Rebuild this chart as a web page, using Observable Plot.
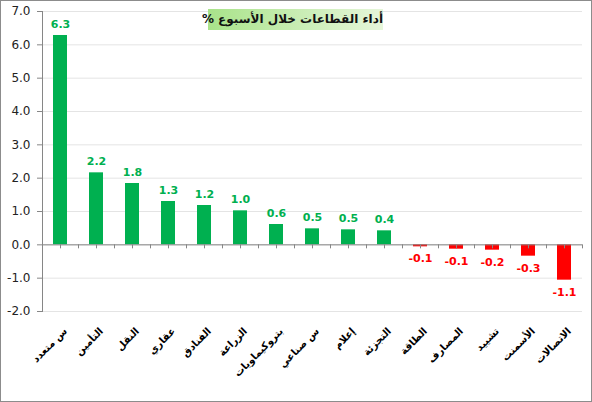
<!DOCTYPE html>
<html><head><meta charset="utf-8">
<script src="https://cdn.jsdelivr.net/npm/d3@7"></script>
<script src="https://cdn.jsdelivr.net/npm/@observablehq/plot@0.6"></script>
<style>
body{margin:0;background:#fff;}
#wrap{position:relative;width:592px;height:402px;overflow:hidden;background:#fff}
#chart{position:absolute;left:0;top:0}
#border{position:absolute;left:0;top:0;width:590px;height:400px;border:1px solid #8c8c8c;pointer-events:none}
#title{position:absolute;left:208px;top:9px;width:175px;height:21px;background:linear-gradient(to right,#a9e38a,#e6f6da);font:bold 12px "DejaVu Sans";line-height:21px;text-align:center;direction:rtl;color:#111;white-space:nowrap}
</style></head><body>
<div id="wrap"><div id="chart"></div><div id="title">أداء القطاعات خلال الأسبوع %</div><div id="border"></div></div>
<script>
const sectors = ["س متعدد","التأمين","النقل","عقاري","الفنادق","الزراعة","بتروكيماويات","س صناعي","إعلام","التجزئة","الطاقة","المصارف","تشييد","الأسمنت","الاتصالات"];
const changes = [6.28, 2.16, 1.84, 1.30, 1.18, 1.02, 0.61, 0.48, 0.45, 0.42, -0.06, -0.13, -0.16, -0.34, -1.06];
const yTicks = [-2, -1, 0, 1, 2, 3, 4, 5, 6, 7];

const data = sectors.map((s, i) => ({sector: s, change: changes[i]}));
const pos = data.filter(d => d.change >= 0);
const neg = data.filter(d => d.change < 0);
const axisGray = "#868686";

const chart = Plot.plot({
  width: 592, height: 402,
  marginLeft: 42, marginRight: 10, marginTop: 11, marginBottom: 91,
  style: {fontFamily: "DejaVu Sans", fontSize: "12px", color: "#222", background: "transparent"},
  x: {domain: sectors, paddingInner: 0.611, paddingOuter: 0.3055, label: null},
  y: {domain: [-2, 7], label: null},
  marks: [
    Plot.gridY(yTicks, {stroke: "#e4e4e4", strokeOpacity: 1}),
    Plot.barY(pos, {x: "sector", y: "change", fill: "#00B050"}),
    Plot.barY(neg, {x: "sector", y: "change", fill: "#FF0000"}),
    Plot.ruleY([0], {stroke: axisGray}),
    Plot.ruleX(sectors, {x: d => d, y1: 0, y2: 0, insetBottom: -4, stroke: axisGray}),
    Plot.ruleX(sectors, {x: d => d, y1: 0, y2: 0, insetBottom: -4, dx: -18, stroke: axisGray}),
    Plot.ruleX(sectors.slice(-1), {x: d => d, y1: 0, y2: 0, insetBottom: -4, dx: 18, stroke: axisGray}),
    Plot.frame({anchor: "left", stroke: axisGray}),
    Plot.axisY(yTicks, {tickSize: 5, tickPadding: 7, tickFormat: d => d.toFixed(1), stroke: axisGray, fill: "#222", fontSize: 12}),
    Plot.axisX({tickRotate: -45, tickSize: 0, tickPadding: 18, dx: 5, fontWeight: "bold", fontSize: 10, fill: "#000", label: null}),
    Plot.text(pos, {x: "sector", y: "change", text: d => d.change.toFixed(1), dy: -11, fill: "#00B050", fontWeight: "bold", fontSize: 11}),
    Plot.text(neg, {x: "sector", y: "change", text: d => d.change.toFixed(1), dy: 12, fill: "#FF0000", fontWeight: "bold", fontSize: 11})
  ]
});
document.getElementById("chart").appendChild(chart);
</script>
</body></html>
